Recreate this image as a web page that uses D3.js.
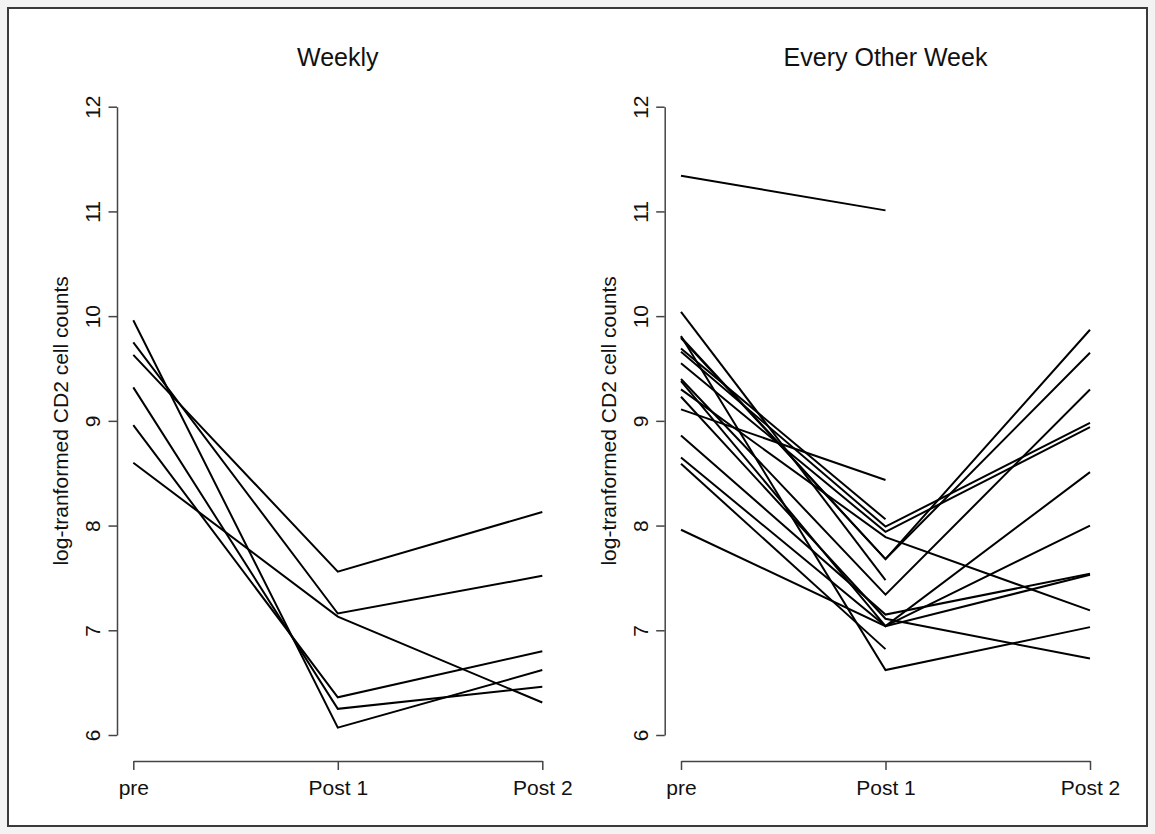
<!DOCTYPE html>
<html>
<head>
<meta charset="utf-8">
<script src="https://cdn.jsdelivr.net/npm/d3@7"></script>
<style>
  body { margin: 0; background: #f3f3f3; }
  svg { display: block; }
  text { font-family: "Liberation Sans", Arial, Helvetica, sans-serif; fill: #111; }
</style>
</head>
<body>
<div id="chart"></div>
<script>
// time points on the x axis
var timepoints = ["pre", "Post 1", "Post 2"];
var yTicks = [6, 7, 8, 9, 10, 11, 12];

// Weekly group, one entry per subject
var weeklyPre   = [9.96, 9.75, 9.63, 9.32, 8.96, 8.60];
var weeklyPost1 = [6.07, 7.16, 7.56, 6.25, 6.36, 7.13];
var weeklyPost2 = [6.62, 7.52, 8.13, 6.46, 6.80, 6.31];

// Every other week group (null = no value at that visit)
var otherPre   = [11.34, 10.04, 9.81, 9.80, 9.79, 9.69, 9.66, 9.55, 9.40, 9.38, 9.30, 9.23, 9.11, 8.86, 8.65, 8.59, 7.96];
var otherPost1 = [11.01, 7.48, 6.62, 7.68, 7.68, 8.06, 7.99, 7.94, 7.34, 7.04, 7.89, 7.11, 8.435, 7.15, 7.04, 6.82, 7.04];
var otherPost2 = [null, null, 7.03, 9.87, 9.65, null, 8.98, 8.94, 9.30, 8.51, 7.19, 6.73, null, 7.54, 8.00, null, 7.53];

var panelTitles = ["Weekly", "Every Other Week"];
var yLabel = "log-tranformed CD2 cell counts";

var width = 1155, height = 834;

var svg = d3.select("#chart").append("svg")
    .attr("width", width)
    .attr("height", height);

svg.append("rect")
    .attr("x", 8).attr("y", 8)
    .attr("width", 1139).attr("height", 818)
    .attr("fill", "#fff")
    .attr("stroke", "#3a3a3a")
    .attr("stroke-width", 2);

function toSeries(pre, post1, post2) {
    return pre.map(function (d, i) {
        return [pre[i], post1[i], post2[i]];
    });
}

function panel(offset, title, series) {
    var axisX = 117 + offset;
    var xScale = d3.scalePoint().domain(timepoints).range([133.3 + offset, 542.3 + offset]);
    var yScale = d3.scaleLinear().domain([6, 12]).range([735, 106.7]);

    var g = svg.append("g");

    g.append("text")
        .attr("x", xScale("Post 1"))
        .attr("y", 65.7)
        .attr("text-anchor", "middle")
        .style("font-size", "25px")
        .text(title);

    // y axis, labels turned like R's las=0
    var yAxis = g.append("g")
        .attr("transform", "translate(" + axisX + ",0)")
        .call(d3.axisLeft(yScale).tickValues(yTicks).tickSize(8.5).tickSizeOuter(0).tickFormat(d3.format("d")));
    yAxis.selectAll("text")
        .attr("transform", "rotate(-90)")
        .attr("x", 0)
        .attr("y", -17)
        .attr("dy", 0)
        .attr("text-anchor", "middle")
        .style("font-size", "21px");

    var xAxis = g.append("g")
        .attr("transform", "translate(0,761)")
        .call(d3.axisBottom(xScale).tickSize(9).tickSizeOuter(0));
    xAxis.selectAll("text")
        .attr("y", 34)
        .attr("dy", 0)
        .style("font-size", "21px");

    g.selectAll(".domain, .tick line")
        .attr("stroke", "#444")
        .attr("stroke-width", 1.5);
    g.selectAll(".tick text").attr("fill", "#111");

    g.append("text")
        .attr("transform", "translate(" + (68 + offset) + "," + yScale(9) + ") rotate(-90)")
        .attr("text-anchor", "middle")
        .style("font-size", "21px")
        .text(yLabel);

    var line = d3.line()
        .defined(function (d) { return d != null; })
        .x(function (d, i) { return xScale(timepoints[i]); })
        .y(function (d) { return yScale(d); });

    g.selectAll(".subject")
        .data(series)
        .enter().append("path")
        .attr("class", "subject")
        .attr("d", line)
        .attr("fill", "none")
        .attr("stroke", "#000")
        .attr("stroke-width", 2);
}

panel(0, panelTitles[0], toSeries(weeklyPre, weeklyPost1, weeklyPost2));
panel(547.7, panelTitles[1], toSeries(otherPre, otherPost1, otherPost2));
</script>
</body>
</html>
